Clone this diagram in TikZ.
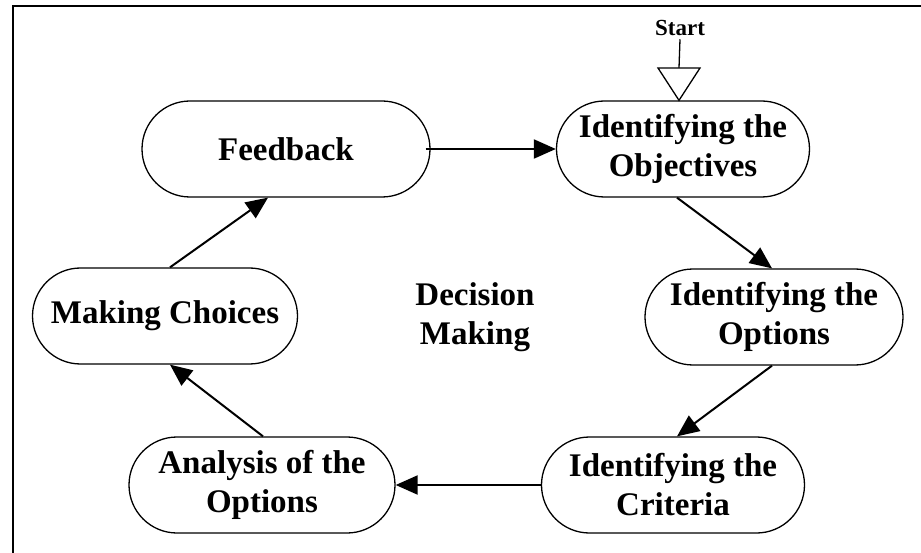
\documentclass[tikz,border=0pt]{standalone}
\usepackage{fontspec}
\setmainfont{Liberation Serif}
\usetikzlibrary{shapes.misc,arrows.meta}

\begin{document}
\begin{tikzpicture}[x=1pt,y=-1pt,
  stage/.style={rounded rectangle, draw, line width=1.3pt, fill=white,
    inner sep=0pt, align=center, minimum height=96pt,
    font=\fontsize{33}{39}\selectfont\bfseries},
  flow/.style={line width=2pt, -{Triangle[length=22pt,width=19pt]}},
  centre/.style={align=center, font=\fontsize{33}{39}\selectfont\bfseries}]
  \useasboundingbox (0,0) rectangle (921,553);
  % frame
  \draw[line width=1.8pt] (13,553) -- (13,6) -- (921,6);

  % stages of the cycle
  \node[stage, minimum width=288pt] (fb)   at (286,149) {Feedback};
  \node[stage, minimum width=253pt] (obj)  at (683,149) {Identifying the\\Objectives};
  \node[stage, minimum width=258pt] (opt)  at (774,317) {Identifying the\\Options};
  \node[stage, minimum width=263pt] (crit) at (673,485) {Identifying the\\Criteria};
  \node[stage, minimum width=266pt] (ana)  at (262,485) {Analysis of the\\Options};
  \node[stage, minimum width=265pt] (mc)   at (165,316) {Making Choices};
  \node[centre] (dm) at (475,317) {Decision\\Making};

  % start marker
  \node[font=\fontsize{23}{27}\selectfont\bfseries] (start) at (680,28) {Start};
  \coordinate (tri) at (679,68);
  \draw[line width=1.3pt] (start.south) -- (tri);
  \draw[line width=1.3pt, fill=white] (658,68) -- (700,68) -- ([xshift=-4pt]obj.north) -- cycle;

  % connectors
  \draw[flow] ([xshift=-5pt]fb.east) -- (obj.west);
  \draw[flow] ([xshift=-6pt]obj.south) -- ([xshift=-2pt]opt.north);
  \draw[flow] ([xshift=-2pt]opt.south) -- ([xshift=4pt]crit.north);
  \draw[flow] (crit.west) -- (ana.east);
  \draw[flow] ([xshift=1pt]ana.north) -- ([xshift=5pt]mc.south);
  \draw[flow] ([xshift=5pt]mc.north) -- ([xshift=-18pt]fb.south);
\end{tikzpicture}
\end{document}
